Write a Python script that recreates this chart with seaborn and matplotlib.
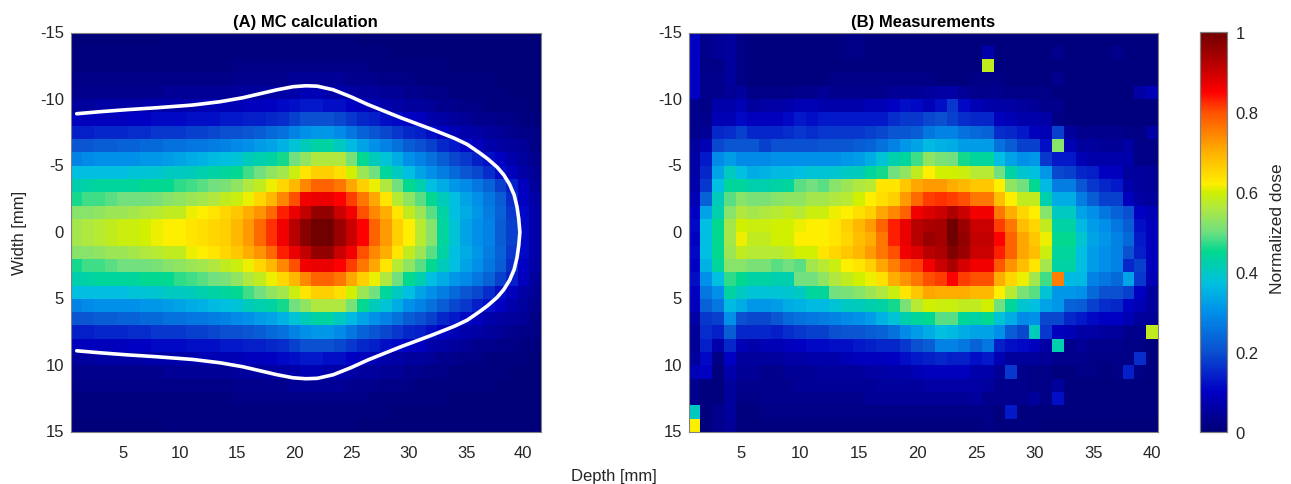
import numpy as np
import matplotlib
matplotlib.use("Agg")
import matplotlib.pyplot as plt
from matplotlib.colors import LinearSegmentedColormap
import seaborn as sns

# --------------------------------------------------
# Values, in percent of max dose
# --------------------------------------------------
# (A) upper half, width -15 to 0, depth 1 to 41 (the panel is symmetric)
mc_upper = [
    [0,0,0,0,0,0,0,0,1,1,1,1,1,1,1,1,1,1,1,1,1, 1,1,1,1,0,0,0,0,0,0,0,0,0,0,0,0,0,0,0,0],
    [1,1,1,1,1,1,1,1,1,1,1,1,1,1,1,1,1,1,1,1,1, 1,1,1,1,1,1,1,0,0,0,0,0,0,0,0,0,0,0,0,0],
    [1,1,1,1,1,1,1,1,1,1,1,1,1,1,2,2,2,2,2,2,2, 2,2,2,2,2,1,1,1,1,1,1,1,0,0,0,0,0,0,0,0],
    [2,2,2,2,2,2,2,2,2,2,2,2,2,2,3,3,3,3,3,4,4, 4,4,4,3,3,3,2,2,2,1,1,1,1,1,1,1,0,0,0,0],
    [3,3,3,3,3,3,3,3,4,4,4,4,4,4,5,5,5,6,6,7,8, 8,7,7,6,5,5,4,4,3,3,2,2,1,1,1,1,1,0,0,0],
    [5,5,6,6,6,6,7,7,7,7,7,8,8,8,8,9,9,10,11,12,13, 13,12,12,10,9,8,7,6,5,5,4,3,3,2,2,1,1,1,1,0],
    [9,9,9,9,9,10,10,11,11,11,12,12,12,13,13,14,14,15,16,18,20, 20,20,19,17,15,14,12,11,10,9,7,6,5,4,3,3,2,2,1,1],
    [14,14,15,15,15,16,16,17,17,17,18,18,19,20,20,21,22,24,25,28,30, 31,31,29,26,23,21,19,17,15,14,12,10,8,7,6,5,4,3,2,2],
    [21,21,22,22,23,23,24,24,25,25,26,26,27,28,29,30,32,33,35,38,41, 43,43,40,36,33,30,28,25,22,20,18,15,13,11,9,7,6,5,4,2],
    [28,29,30,30,30,30,31,31,32,33,34,35,36,37,38,41,42,43,46,50,53, 56,56,56,51,45,41,38,34,30,28,25,22,19,17,14,12,10,7,5,3],
    [37,37,37,37,37,38,38,39,40,40,41,42,43,44,45,48,50,53,55,59,63, 66,66,64,60,54,50,44,40,37,33,30,27,24,21,19,16,12,9,6,4],
    [42,43,44,44,44,44,45,45,45,47,48,49,50,51,53,56,58,61,65,69,74, 78,78,76,71,66,61,56,50,45,42,37,34,31,29,26,23,18,14,9,5],
    [46,48,48,49,50,50,50,51,52,53,54,55,56,58,59,61,65,69,74,80,86, 87,87,85,81,76,71,63,57,53,49,45,41,37,33,30,26,22,16,10,6],
    [52,52,53,54,54,55,56,57,58,58,61,62,63,65,67,70,73,77,83,87,91, 96,96,90,86,80,74,70,63,58,54,49,43,37,34,31,27,23,17,11,7],
    [55,56,57,58,59,59,60,61,62,62,63,64,65,66,69,72,77,82,86,92,97, 100,100,95,90,85,78,72,66,62,57,52,44,38,33,30,28,22,18,11,7],
]

# (B) all rows, width -15 to 15, depth 1 to 40
measured = [
    [10,3,4,5,2,1,1,1,1,1, 1,1,1,2,2,1,1,1,1,1, 1,1,1,1,1,1,1,1,1,1, 1,1,1,1,1,1,1,1,1,1],
    [10,3,4,5,2,1,1,1,1,1, 1,1,1,2,2,1,1,1,1,1, 1,1,1,1,1,7,1,1,1,1, 1,3,1,1,1,1,3,1,1,1],
    [10,2,2,5,2,1,1,1,1,1, 1,1,1,1,1,1,1,1,1,1, 1,1,1,1,1,58,1,1,1,1, 1,1,1,1,1,1,1,1,1,1],
    [10,3,3,5,2,1,1,1,1,1, 1,1,2,2,2,2,2,2,2,2, 2,1,1,1,2,2,2,1,1,1, 1,3,1,1,1,1,1,1,1,1],
    [10,3,3,4,5,2,2,2,2,3, 3,4,3,3,3,3,3,4,4,4, 5,6,6,4,3,3,3,2,2,2, 2,1,1,1,1,1,1,1,6,8],
    [3,2,7,7,8,5,6,6,7,8, 8,7,7,7,7,8,8,10,12,11, 8,12,17,11,8,7,6,6,5,4, 3,3,1,1,1,1,1,1,1,1],
    [3,3,8,8,11,9,9,9,11,13, 12,13,13,13,13,13,13,16,17,17, 19,20,18,16,15,15,9,8,7,7, 6,2,1,1,1,1,1,1,1,1],
    [3,4,15,16,18,15,15,15,16,17, 16,17,17,17,17,18,19,21,21,22, 26,28,28,25,24,23,16,15,13,9, 8,18,5,3,3,3,3,2,2,6],
    [5,8,19,21,21,21,18,20,20,20, 20,21,21,21,22,23,25,28,31,33, 36,35,34,32,32,32,25,22,18,18, 12,52,8,5,5,4,4,6,2,2],
    [6,13,29,32,29,29,29,30,30,30, 30,30,30,31,32,34,38,42,44,48, 53,51,50,46,44,44,37,33,30,31, 17,13,13,8,7,7,7,7,2,2],
    [6,15,33,40,37,34,35,36,36,37, 38,38,39,40,41,44,46,50,53,58, 62,60,60,59,57,57,50,43,39,37, 31,19,18,15,14,10,9,5,5,4],
    [7,17,37,44,44,42,42,43,44,49, 50,49,52,54,56,57,63,63,67,71, 72,72,70,69,67,67,62,53,50,45, 36,27,27,21,17,15,13,7,5,4],
    [8,23,41,49,52,51,51,52,53,53, 55,55,56,57,60,62,64,66,72,77, 81,82,81,80,76,76,68,62,58,58, 42,34,34,27,22,18,18,9,6,5],
    [10,33,42,52,56,55,56,57,58,57, 59,59,61,62,64,66,71,74,78,86, 88,90,93,90,86,86,76,70,65,62, 52,40,40,33,30,26,23,20,10,8],
    [11,37,45,55,60,59,59,60,60,61, 62,62,63,66,69,72,78,83,87,92, 93,94,100,95,90,90,81,76,68,65, 58,43,43,36,32,30,26,22,12,9],
    [10,37,45,55,61,58,58,60,60,62, 62,62,63,65,68,70,76,83,87,92, 95,94,100,96,91,91,85,78,71,67, 61,45,45,39,33,31,28,24,13,9],
    [11,37,45,54,58,57,57,57,58,60, 60,63,65,67,69,72,76,80,86,88, 92,93,98,95,90,90,83,78,71,68, 59,44,44,37,32,30,28,20,14,9],
    [10,35,44,52,52,51,51,49,50,49, 55,57,59,62,63,66,71,75,80,81, 86,90,93,89,86,86,79,73,68,63, 55,43,43,37,32,30,28,15,18,9],
    [12,30,37,47,45,43,43,42,42,50, 50,53,56,58,60,61,64,70,73,76, 80,81,85,81,80,80,70,65,61,55, 48,75,36,36,28,26,24,33,17,8],
    [10,26,30,43,40,38,38,38,39,40, 44,44,50,51,52,54,56,59,63,67, 71,70,70,70,69,69,62,57,51,49, 38,31,31,30,24,20,20,18,10,5],
    [9,23,26,36,34,31,31,32,34,35, 36,36,38,40,41,42,43,46,51,57, 60,59,59,58,58,60,50,44,39,37, 33,31,23,22,18,16,15,10,8,5],
    [6,17,18,30,20,19,19,21,24,25, 26,27,28,29,30,32,35,38,42,44, 45,49,49,44,43,45,38,34,29,30, 19,19,15,13,11,10,10,8,5,4],
    [4,16,14,22,15,15,15,14,16,17, 18,18,20,21,21,22,23,25,29,32, 34,37,36,34,33,33,30,22,19,41, 17,9,8,6,6,5,5,3,3,58],
    [4,14,7,15,8,7,8,8,9,10, 11,11,12,12,13,14,15,15,17,20, 22,28,28,26,23,26,14,12,11,9, 6,42,3,4,3,3,3,2,2,1],
    [5,11,2,10,5,5,5,5,6,6, 7,7,7,8,9,9,9,10,12,13, 14,15,14,14,12,13,8,5,5,5, 4,3,3,3,2,2,2,2,16,1],
    [8,10,1,7,4,4,3,3,4,4, 4,5,5,5,5,6,6,7,7,8, 9,9,9,9,7,7,4,17,3,2, 2,1,1,2,2,1,2,14,2,1],
    [3,1,1,5,3,3,3,3,3,4, 4,4,4,4,4,4,5,5,5,5, 6,6,6,6,6,5,3,3,3,2, 2,5,1,1,1,1,1,1,1,1],
    [3,1,1,5,2,2,3,3,3,3, 3,3,3,3,3,4,4,4,4,4, 4,4,4,4,5,3,3,3,3,5, 2,12,1,1,1,1,1,1,1,1],
    [40,1,3,5,1,1,2,2,2,2, 2,2,2,2,2,2,2,2,2,2, 2,2,2,2,2,2,1,13,1,1, 1,1,1,1,1,1,1,1,1,1],
    [62,1,3,4,1,1,1,1,1,1, 1,1,1,1,1,1,1,1,1,1, 1,1,1,1,1,2,1,1,1,1, 0,0,0,0,0,0,0,0,0,0],
]

# white outline on panel A (upper half, mirrored below), depth / width in mm
outline_depth = [1, 3, 5.3, 8, 11.1, 13.5, 15.5, 17, 18.5, 19.9, 21, 22, 23.4, 25, 26.4, 29.3, 32.1,
                 34, 35.1, 36.2, 36.9, 37.7, 38.3, 38.8, 39.2, 39.45, 39.6, 39.7]
outline_width = [-8.9, -9.05, -9.2, -9.35, -9.55, -9.8, -10.1, -10.4, -10.7, -10.93, -11, -10.97, -10.7, -10.15, -9.6, -8.6, -7.7,
                 -7.05, -6.6, -5.95, -5.5, -4.9, -4.3, -3.6, -2.8, -1.9, -1, 0]

depth_ticks = [5, 10, 15, 20, 25, 30, 35, 40]
width_ticks = [-15, -10, -5, 0, 5, 10, 15]
dose_ticks = [0, 0.2, 0.4, 0.6, 0.8, 1]
dose_labels = ["0", "0.2", "0.4", "0.6", "0.8", "1"]

dose_colors = [
    (0.00, "#000078"), (0.10, "#0000c4"), (0.20, "#0a50d0"), (0.30, "#0090ea"),
    (0.37, "#00c0e0"), (0.45, "#00d890"), (0.50, "#70e080"), (0.56, "#b0e840"),
    (0.60, "#d0f000"), (0.62, "#ffee00"), (0.70, "#ffb000"), (0.80, "#ff5000"),
    (0.85, "#ff0000"), (0.92, "#b80000"), (1.00, "#700000"),
]

# --------------------------------------------------
# Figure setup
# --------------------------------------------------
sns.set_theme(style="white")
plt.rcParams["font.family"] = ["Liberation Sans", "DejaVu Sans"]
text_color = "#262626"
W, H = 1291, 485

fig = plt.figure(figsize=(W / 100, H / 100), dpi=100)


def box(x0, x1, y0, y1):
    return [x0 / W, 1 - y1 / H, (x1 - x0) / W, (y1 - y0) / H]


ax_a = fig.add_axes(box(71, 540.5, 33.5, 433))
ax_b = fig.add_axes(box(688.7, 1157.7, 33.5, 433))
ax_c = fig.add_axes(box(1200, 1227, 32.5, 433))

dose_cmap = LinearSegmentedColormap.from_list("dose", dose_colors, N=256)
upper = np.array(mc_upper) / 100
mc_dose = np.vstack([upper, upper[::-1]])
meas_dose = np.array(measured) / 100

# --------------------------------------------------
# Heatmaps
# --------------------------------------------------
sns.heatmap(mc_dose, ax=ax_a, cmap=dose_cmap, vmin=0, vmax=1, cbar=False)
sns.heatmap(meas_dose, ax=ax_b, cmap=dose_cmap, vmin=0, vmax=1, cbar_ax=ax_c,
            cbar_kws={"ticks": dose_ticks})

# heatmap cells sit on 0..N, so shift depth by half a cell and width by 15
line_x = np.array(outline_depth + outline_depth[-2::-1]) - 0.5
line_y = np.array(outline_width + [-w for w in outline_width[-2::-1]]) + 15
sns.lineplot(x=line_x, y=line_y, ax=ax_a, color="white", lw=2.6, sort=False, estimator=None)

for ax, title in [(ax_a, "(A) MC calculation"), (ax_b, "(B) Measurements")]:
    ax.set_xticks([d - 0.5 for d in depth_ticks])
    ax.set_xticklabels([str(d) for d in depth_ticks], rotation=0)
    ax.set_yticks([w + 15 for w in width_ticks])
    ax.set_yticklabels([str(w) for w in width_ticks], rotation=0)
    ax.tick_params(direction="in", length=3, width=0.7, top=True, right=True, color="#333333",
                   labelsize=12, labelcolor=text_color)
    ax.tick_params(axis="x", pad=9)
    ax.tick_params(axis="y", pad=5)
    ax.set_title(title, fontsize=12, fontweight="bold", color="black", pad=5)
    for s in ax.spines.values():
        s.set_visible(True)
        s.set_color("#808080")
        s.set_linewidth(0.8)

# --------------------------------------------------
# Colorbar and shared labels
# --------------------------------------------------
ax_c.set_yticklabels(dose_labels)
ax_c.tick_params(direction="in", length=3, width=0.7, right=True, color="#333333",
                 labelsize=12, labelcolor=text_color, pad=6)
for s in ax_c.spines.values():
    s.set_visible(True)
    s.set_color("#808080")
    s.set_linewidth(0.8)

fig.text(614 / W, 1 - 477 / H, "Depth [mm]", ha="center", va="center", fontsize=12, color=text_color)
fig.text(20 / W, 1 - 233 / H, "Width [mm]", ha="center", va="center", rotation=90, fontsize=12, color=text_color)
fig.text(1277 / W, 1 - 229 / H, "Normalized dose", ha="center", va="center", rotation=90, fontsize=12.5, color=text_color)

fig.savefig("out.png", dpi=100)
